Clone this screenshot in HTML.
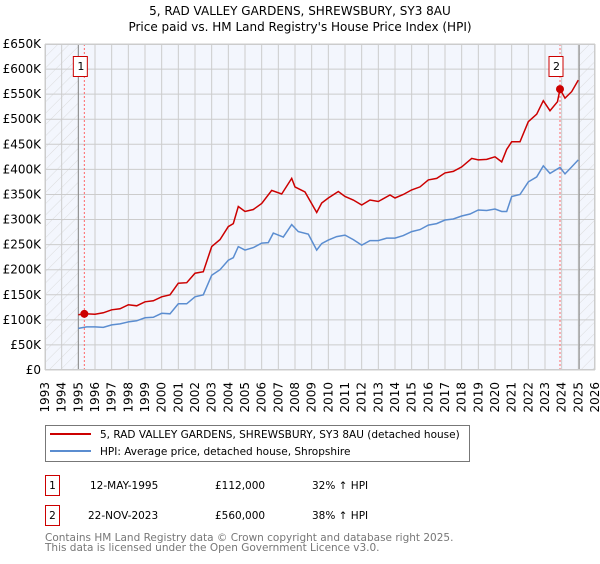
<!DOCTYPE html>
<html><head><meta charset="utf-8"><style>
body{margin:0;background:#fff;font-family:"DejaVu Sans","Liberation Sans",sans-serif;}
svg text{font-family:"DejaVu Sans","Liberation Sans",sans-serif;}
</style></head><body>
<svg id="chart" width="600" height="560" xmlns="http://www.w3.org/2000/svg">
<defs><pattern id="hatch" width="8" height="8" patternUnits="userSpaceOnUse" patternTransform="rotate(45)"><line x1="0" y1="0" x2="0" y2="8" stroke="#d4d4d4" stroke-width="0.8"/></pattern></defs>
<text x="300" y="15" text-anchor="middle" font-size="12">5, RAD VALLEY GARDENS, SHREWSBURY, SY3 8AU</text>
<text x="300" y="31" text-anchor="middle" font-size="12">Price paid vs. HM Land Registry's House Price Index (HPI)</text>
<g id="plot"></g>
<g>
<rect x="45.5" y="425.5" width="424" height="36" fill="#fff" stroke="#777"/>
<line x1="50" y1="434" x2="91" y2="434" stroke="#cc0000" stroke-width="2"/>
<text x="100" y="438" font-size="10.5">5, RAD VALLEY GARDENS, SHREWSBURY, SY3 8AU (detached house)</text>
<line x1="50" y1="451" x2="91" y2="451" stroke="#5b8dd0" stroke-width="2"/>
<text x="100" y="455" font-size="10.5">HPI: Average price, detached house, Shropshire</text>
</g>
<g font-size="10.5">
<rect x="45.5" y="475.5" width="14" height="20" fill="#fff" stroke="#cc0000"/>
<text x="52.5" y="489" text-anchor="middle">1</text>
<text x="90" y="489">12-MAY-1995</text><text x="215" y="489">£112,000</text><text x="312" y="489">32% ↑ HPI</text>
<rect x="45.5" y="505.5" width="14" height="20" fill="#fff" stroke="#cc0000"/>
<text x="52.5" y="519" text-anchor="middle">2</text>
<text x="88" y="519">22-NOV-2023</text><text x="215" y="519">£560,000</text><text x="312" y="519">38% ↑ HPI</text>
</g>
<text x="45" y="541" font-size="10.5" fill="#777">Contains HM Land Registry data © Crown copyright and database right 2025.</text>
<text x="45" y="551" font-size="10.5" fill="#777">This data is licensed under the Open Government Licence v3.0.</text>
</svg>
<script>
const hpiYears=[1995,1995.5,1996,1996.5,1997,1997.5,1998,1998.5,1999,1999.5,2000,2000.5,2001,2001.5,2002,2002.5,2003,2003.5,2004,2004.3,2004.6,2005,2005.5,2006,2006.4,2006.7,2007.3,2007.8,2008.2,2008.8,2009.3,2009.6,2010,2010.5,2011,2011.5,2012,2012.5,2013,2013.5,2014,2014.5,2015,2015.5,2016,2016.5,2017,2017.5,2018,2018.5,2019,2019.5,2020,2020.4,2020.7,2021,2021.5,2022,2022.5,2022.9,2023.3,2023.9,2024.2,2024.6,2025];
const hpiValues=[83,86,86,85,90,92,96,98,104,105,113,112,132,132,146,150,189,200,219,224,246,239,244,253,254,273,265,290,276,271,239,252,259,266,269,260,249,258,258,263,263,268,276,280,289,292,299,301,307,311,319,318,321,316,316,346,350,375,385,407,392,404,391,405,419];
const priceYears=[1995,1995.4,1996,1996.5,1997,1997.5,1998,1998.5,1999,1999.5,2000,2000.5,2001,2001.5,2002,2002.5,2003,2003.5,2004,2004.3,2004.6,2005,2005.5,2006,2006.6,2007.2,2007.8,2008,2008.6,2009.3,2009.6,2010,2010.6,2011,2011.5,2012,2012.5,2013,2013.7,2014,2014.5,2015,2015.5,2016,2016.5,2017,2017.5,2018,2018.6,2019,2019.5,2020,2020.4,2020.7,2021,2021.5,2022,2022.5,2022.9,2023.3,2023.75,2023.9,2024.2,2024.6,2025];
const priceValues=[110,112,111,114,120,122,130,128,136,138,146,150,173,174,193,196,246,260,286,292,326,316,320,332,358,351,382,365,355,314,333,343,356,346,339,329,339,336,349,343,350,359,365,379,382,393,396,405,422,419,420,425,415,440,455,455,495,510,537,517,535,560,542,555,578];
const yTicks=[0,50,100,150,200,250,300,350,400,450,500,550,600,650];
const yTickLabels=["£0","£50K","£100K","£150K","£200K","£250K","£300K","£350K","£400K","£450K","£500K","£550K","£600K","£650K"];
const xTicks=[1993,1994,1995,1996,1997,1998,1999,2000,2001,2002,2003,2004,2005,2006,2007,2008,2009,2010,2011,2012,2013,2014,2015,2016,2017,2018,2019,2020,2021,2022,2023,2024,2025,2026];
const saleYears=[1995.36,2023.9];
const saleValues=[112,560];
const saleLabels=["1","2"];
const X0=45,X1=595,Y0=370,Y1=44;
const xs=y=>X0+(y-1993)/(2026-1993)*(X1-X0);
const ys=v=>Y0-v/650*(Y0-Y1);
const NS="http://www.w3.org/2000/svg";
const g=document.getElementById('plot');
function mk(t,a){const e=document.createElementNS(NS,t);for(const k in a)e.setAttribute(k,a[k]);g.appendChild(e);return e;}
let e=mk('rect',{x:X0,y:Y1,width:X1-X0,height:Y0-Y1,fill:'#f3f6fd'});


e=mk('rect',{x:X0,y:Y1,width:xs(1995)-X0,height:Y0-Y1,fill:'url(#hatch)'});


e=mk('rect',{x:xs(2025.05),y:Y1,width:X1-xs(2025.05),height:Y0-Y1,fill:'url(#hatch)'});


yTicks.forEach((v,i)=>{
 e=mk('line',{x1:X0,x2:X1,y1:ys(v),y2:ys(v),stroke:'#ccc'});
 
 
 e=mk('text',{x:X0-4,y:ys(v)+4,'text-anchor':'end','font-size':12});
 e.textContent=yTickLabels[i];
 
 
});
xTicks.forEach(t=>{
 e=mk('line',{x1:xs(t),x2:xs(t),y1:Y1,y2:Y0,stroke:'#ccc'});
 
 
 e=mk('text',{x:xs(t)+4,y:Y0+12,'text-anchor':'end','font-size':12,transform:`rotate(-90 ${xs(t)+4} ${Y0+12})`});
 e.textContent=t;
 
 
});
e=mk('line',{x1:xs(1995),x2:xs(1995),y1:Y1,y2:Y0,stroke:'#888'});


e=mk('line',{x1:xs(2025.05),x2:xs(2025.05),y1:Y1,y2:Y0,stroke:'#888'});


saleYears.forEach((yr,i)=>{
 e=mk('line',{x1:xs(yr),x2:xs(yr),y1:Y1,y2:Y0,stroke:'#f66','stroke-dasharray':'2,2'});
 
 
});
function path(xa,va,col,name){
 const d=xa.map((x,i)=>(i?'L':'M')+xs(x).toFixed(1)+','+ys(va[i]).toFixed(1)).join('');
 const p=mk('path',{d:d,fill:'none',stroke:col,'stroke-width':1.5});
 
 
}
path(hpiYears,hpiValues,'#5b8dd0','hpi-line');
path(priceYears,priceValues,'#cc0000','price-line');
saleYears.forEach((yr,i)=>{
 e=mk('circle',{cx:xs(yr),cy:ys(saleValues[i]),r:4,fill:'#cc0000'});
 
 
 const bx=xs(yr)-3.5;
 e=mk('rect',{x:bx-7.5,y:56.5,width:14,height:20,fill:'#fff',stroke:'#cc0000'});
 
 
 e=mk('text',{x:bx,y:70,'text-anchor':'middle','font-size':11});
 e.textContent=saleLabels[i];
 
 
});
e=mk('rect',{x:X0+0.5,y:Y1+0.5,width:X1-X0-1,height:Y0-Y1-1,fill:'none',stroke:'#ccc'});


</script>
</body></html>
